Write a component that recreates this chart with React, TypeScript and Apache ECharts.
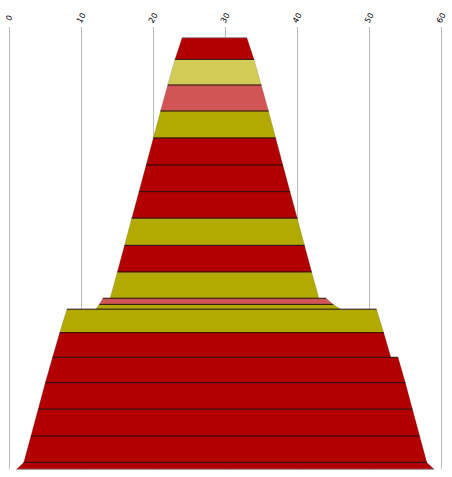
import React, { useEffect, useRef } from 'react';
import * as echarts from 'echarts';

// x-axis tick values (top axis)
const xTicks = [0, 10, 20, 30, 40, 50, 60];

// one entry per band, from the top of the cone down
const bandColors = [
  '#b20000', '#d2cc57', '#d25555', '#b2aa00', '#b20000', '#b20000', '#b20000',
  '#b2aa00', '#b20000', '#b2aa00', '#d25555', '#b2aa00', '#b2aa00', '#b20000',
  '#b20000', '#b20000', '#b20000', '#b20000', '#b20000'
];
const topLeft = [24, 23, 22, 21, 20, 19, 18, 17, 16, 15, 13, 12.5, 8, 7, 6, 5, 4, 3, 2];
const topRight = [33, 34, 35, 36, 37, 38, 39, 40, 41, 42, 44, 45, 51, 52, 54, 55, 56, 57, 58];
const bottomLeft = [23, 22, 21, 20, 19, 18, 17, 16, 15, 14, 12.5, 12, 7, 6, 5, 4, 3, 2, 1];
const bottomRight = [34, 35, 36, 37, 38, 39, 40, 41, 42, 43, 45, 46, 52, 53, 55, 56, 57, 58, 59];
// band boundaries on the hidden vertical scale (top of band i = levels[i], bottom = levels[i + 1])
const levels = [
  16.23, 15.41, 14.45, 13.47, 12.46, 11.44, 10.44, 9.44, 8.42, 7.42,
  6.43, 6.2, 6.02, 5.14, 4.21, 3.26, 2.26, 1.25, 0.26, 0
];
const yMax = 16.63;

const App: React.FC = () => {
  const chartRef = useRef<HTMLDivElement>(null);

  useEffect(() => {
    if (!chartRef.current) return;
    const chart = echarts.init(chartRef.current, undefined, { renderer: 'svg' });

    const renderItem = (params: any, api: any) => {
      const i = api.value(0);
      const tl = api.coord([topLeft[i], levels[i]]);
      const tr = api.coord([topRight[i], levels[i]]);
      const bl = api.coord([bottomLeft[i], levels[i + 1]]);
      const br = api.coord([bottomRight[i], levels[i + 1]]);
      const children: any[] = [
        {
          type: 'polygon',
          shape: { points: [tl, tr, br, bl] },
          style: { fill: bandColors[i], stroke: 'rgba(90,90,90,0.35)', lineWidth: 0.6 }
        },
        {
          type: 'line',
          shape: { x1: tl[0], y1: tl[1], x2: tr[0], y2: tr[1] },
          style: { stroke: i === 0 ? '#9a9a9a' : 'rgba(20,0,0,0.85)', lineWidth: 1 }
        }
      ];
      if (i === bandColors.length - 1) {
        children.push({
          type: 'line',
          shape: { x1: bl[0], y1: bl[1], x2: br[0], y2: br[1] },
          style: { stroke: '#9a9a9a', lineWidth: 1 }
        });
      }
      return { type: 'group', children };
    };

    chart.setOption({
      animation: false,
      grid: { left: 9.3, right: 10.7, top: 27, bottom: 7.7 },
      xAxis: {
        type: 'value',
        position: 'top',
        min: xTicks[0],
        max: xTicks[xTicks.length - 1],
        interval: 10,
        axisLine: { show: false },
        axisTick: { show: false },
        splitLine: { show: true, lineStyle: { color: '#bbbbbb', width: 1 } },
        axisLabel: {
          rotate: 60,
          align: 'center',
          verticalAlign: 'middle',
          margin: 9,
          fontSize: 8,
          color: '#000',
          fontFamily: 'DejaVu Sans'
        }
      },
      yAxis: {
        type: 'value',
        min: 0,
        max: yMax,
        show: false,
        splitLine: { show: false }
      },
      series: [
        {
          type: 'custom',
          renderItem,
          clip: false,
          data: bandColors.map((_, i) => [i]),
          encode: { x: -1, y: -1 }
        }
      ]
    });

    return () => {
      chart.dispose();
    };
  }, []);

  return (
    <div
      ref={chartRef}
      style={{ position: 'absolute', left: 0, top: 0, width: 452, height: 477 }}
    />
  );
};

export default App;
